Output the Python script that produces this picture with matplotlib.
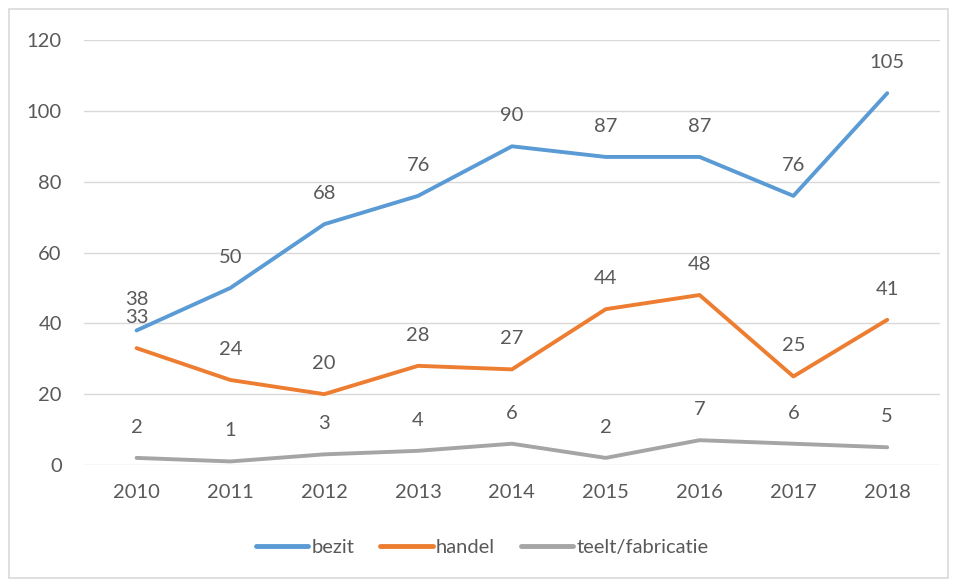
import matplotlib.pyplot as plt
from matplotlib.patches import Rectangle

jaren = ['2010', '2011', '2012', '2013', '2014', '2015', '2016', '2017', '2018']
bezit = [38, 50, 68, 76, 90, 87, 87, 76, 105]
handel = [33, 24, 20, 28, 27, 44, 48, 25, 41]
teelt = [2, 1, 3, 4, 6, 2, 7, 6, 5]

reeksen = [
    ('bezit', bezit, '#5B9BD5'),
    ('handel', handel, '#ED7D31'),
    ('teelt/fabricatie', teelt, '#A5A5A5'),
]

tekst = '#595959'
plt.rcParams['font.family'] = ['Lato', 'DejaVu Sans']

fig = plt.figure(figsize=(9.57, 5.81), dpi=100)
ax = fig.add_axes([0.0878, 0.1997, 0.8942, 0.7313])

x = list(range(len(jaren)))
for naam, waarden, kleur in reeksen:
    ax.plot(x, waarden, color=kleur, lw=2.8, label=naam, solid_capstyle='round',
            solid_joinstyle='round')
    for xi, v in zip(x, waarden):
        ax.annotate(str(v), (xi, v), xytext=(0, 22), textcoords='offset points',
                    ha='center', va='center', fontsize=14.5, color=tekst)

ax.set_xlim(-0.56, 8.56)
ax.set_ylim(0, 120)
ax.set_yticks(range(0, 121, 20))
ax.set_xticks(x)
ax.set_xticklabels(jaren)
ax.grid(axis='y', color='#D9D9D9', lw=1)
ax.set_axisbelow(True)
for s in ax.spines.values():
    s.set_visible(False)
ax.tick_params(length=0, labelsize=14.5, labelcolor=tekst)
ax.tick_params(axis='y', pad=16)
ax.tick_params(axis='x', pad=14)

leg = fig.legend(loc='center', bbox_to_anchor=(0.504, 0.057), ncol=3, frameon=False,
                 fontsize=14.5, handlelength=2.6, columnspacing=1.3, handletextpad=0.15)
for t in leg.get_texts():
    t.set_color(tekst)
for l in leg.get_lines():
    l.set_linewidth(3.5)
    l.set_solid_capstyle('round')

fig.patches.append(Rectangle((0.009, 0.006), 0.982, 0.978, transform=fig.transFigure,
                             fill=False, edgecolor='#D9D9D9', lw=1.2))

fig.savefig('out.png', dpi=100)
